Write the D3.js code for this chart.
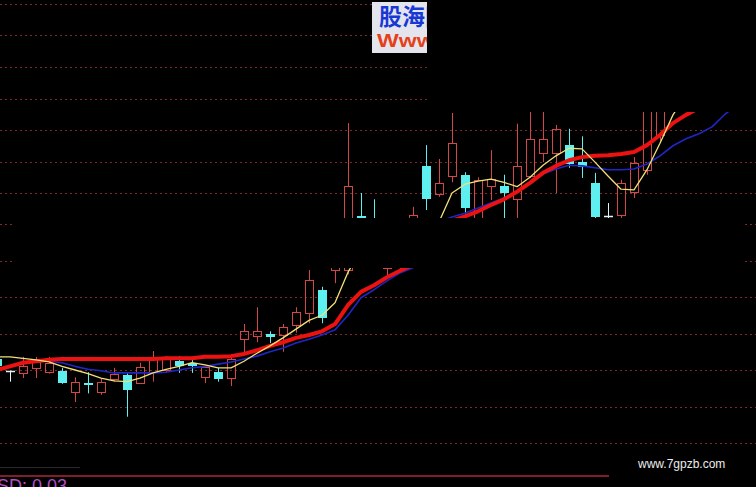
<!DOCTYPE html>
<html><head><meta charset="utf-8">
<script src="https://cdn.jsdelivr.net/npm/d3@7"></script>
<style>html,body{margin:0;padding:0;background:#000;overflow:hidden}</style>
</head><body>
<svg id="c" width="756" height="487"></svg>
<script>
// ---------- DATA ----------
const dayIndex = d3.range(-1, 58);                  // trading-day categories
const upperGridPrices = [15.0, 14.5, 14.0, 13.5, 13.0, 12.5, 12.0];
const lowerGridPrices = [11.0, 10.5, 10.0, 9.5, 9.0, 8.5, 8.0];

// lower section: candles [open, high, low, close], first day = -1
const lowerFirstDay = -1;
const lowerCandles = [
  [9.15, 9.21, 9.03, 9.06], [8.99, 8.99, 8.84, 8.99], [8.96, 9.18, 8.89, 9.06], [9.03, 9.18, 8.89, 9.11],
  [8.97, 9.18, 8.95, 9.10], [8.99, 9.03, 8.81, 8.82], [8.70, 8.90, 8.56, 8.84], [8.82, 8.97, 8.68, 8.79],
  [8.70, 8.89, 8.66, 8.84], [8.88, 9.03, 8.84, 8.95], [8.93, 8.97, 8.36, 8.73], [8.82, 9.10, 8.81, 9.04],
  [8.97, 9.26, 8.84, 9.16], [9.00, 9.19, 8.96, 9.16], [9.12, 9.19, 8.96, 9.06], [9.10, 9.14, 8.96, 9.06],
  [8.90, 9.04, 8.82, 9.04], [8.97, 9.03, 8.84, 8.88], [8.89, 9.21, 8.78, 9.15], [9.42, 9.63, 9.23, 9.53],
  [9.47, 9.86, 9.38, 9.53], [9.49, 9.53, 9.37, 9.45], [9.48, 9.63, 9.25, 9.59], [9.62, 9.86, 9.51, 9.79],
  [9.78, 10.37, 9.64, 10.23], [10.10, 10.14, 9.64, 9.71], [10.37, 10.57, 10.19, 10.53], [10.37, 10.70, 10.31, 10.64],
  [10.60, 11.00, 10.50, 10.90], [10.80, 11.10, 10.70, 11.00], [10.40, 10.90, 10.30, 10.80], [10.45, 10.80, 10.37, 10.70]
];
const lowerMA5 = [9.18, 9.18, 9.16, 9.14, 9.11, 9.05, 9.00, 8.95, 8.89, 8.85, 8.84, 8.89, 8.96, 9.01, 9.05,
  9.10, 9.07, 9.03, 9.03, 9.12, 9.23, 9.33, 9.44, 9.56, 9.68, 9.75, 9.92, 10.34, 10.64];
const lowerMA10 = [9.00, 9.05, 9.10, 9.12, 9.14, 9.15, 9.15, 9.15, 9.15, 9.15, 9.15, 9.15, 9.15, 9.16, 9.16,
  9.16, 9.18, 9.18, 9.19, 9.22, 9.27, 9.33, 9.38, 9.44, 9.48, 9.53, 9.63, 9.89, 10.07, 10.16, 10.27, 10.36, 10.44];
const lowerMA20 = [9.00, 9.05, 9.10, 9.12, 9.12, 9.10, 9.05, 9.01, 8.99, 8.96, 8.96, 8.96, 8.96, 8.97, 9.00,
  9.03, 9.05, 9.08, 9.11, 9.15, 9.19, 9.25, 9.30, 9.37, 9.42, 9.48, 9.55, 9.75, 9.99, 10.10, 10.22, 10.33, 10.40];

// upper section: candles first day = 26
const upperFirstDay = 26;
const upperCandles = [
  [11.38, 13.11, 11.25, 12.11], [11.63, 12.00, 11.41, 11.49], [11.54, 11.90, 11.32, 11.38], [11.30, 11.50, 11.20, 11.45],
  [11.35, 11.55, 11.30, 11.50], [11.44, 11.78, 11.38, 11.65], [12.43, 12.76, 11.73, 11.90], [11.98, 12.54, 11.94, 12.16],
  [12.27, 13.27, 12.17, 12.79], [12.29, 12.33, 11.49, 11.76], [11.33, 12.25, 11.25, 12.21], [12.11, 12.68, 11.89, 12.22],
  [12.11, 12.29, 11.54, 12.00], [11.90, 13.10, 11.60, 12.43], [12.27, 13.29, 12.24, 12.86], [12.63, 13.32, 12.49, 12.86],
  [12.63, 13.08, 12.00, 13.02], [12.76, 13.02, 12.40, 12.46], [12.49, 12.90, 12.24, 12.41], [12.16, 12.32, 11.58, 11.62],
  [11.63, 11.84, 11.60, 11.63], [11.65, 12.21, 11.60, 12.16], [12.02, 12.57, 11.92, 12.48], [12.37, 13.48, 12.29, 13.40],
  [12.92, 13.60, 12.79, 13.50]
];
const upperMA5First = 31;
const upperMA5 = [11.10, 11.33, 11.54, 12.00, 12.14, 12.19, 12.22, 12.17, 12.10, 12.25, 12.44, 12.59, 12.71,
  12.70, 12.49, 12.27, 12.06, 12.05, 12.37, 12.79, 13.24, 13.56];
const upperMA10First = 31;
const upperMA10 = [11.25, 11.37, 11.48, 11.56, 11.63, 11.71, 11.81, 11.90, 12.02, 12.16, 12.32, 12.43, 12.52,
  12.57, 12.59, 12.60, 12.62, 12.65, 12.76, 12.92, 13.11, 13.24, 13.35, 13.45];
const upperMA20First = 32;
const upperMA20 = [11.41, 11.54, 11.62, 11.68, 11.76, 11.84, 11.92, 12.02, 12.16, 12.30, 12.38, 12.44, 12.43,
  12.40, 12.37, 12.37, 12.38, 12.46, 12.59, 12.75, 12.86, 12.94, 13.05, 13.25, 13.41];

const indicatorLabel = "SD: 0.03";
const siteLabel = "www.7gpzb.com";
const logoTop = "股海网";
const logoBottom = "Www";

// ---------- SCALES ----------
const W = 756, H = 487;
const x = d3.scaleLinear().domain([dayIndex[0], 57]).range([-3, 751]);
const yUpper = d3.scaleLinear().domain([12, 15]).range([193, 4]);
const yLower = d3.scaleLinear().domain([8, 10]).range([443, 297]);

const svg = d3.select("#c");
svg.append("rect").attr("width", W).attr("height", H).attr("fill", "#000");

const defs = svg.append("defs");
defs.append("clipPath").attr("id", "clipLower").append("rect").attr("x", 0).attr("y", 268).attr("width", W).attr("height", H - 268);
defs.append("clipPath").attr("id", "clipUpper").append("rect").attr("x", 340).attr("y", 112).attr("width", W - 340).attr("height", 106);
defs.append("clipPath").attr("id", "clipLogo").append("rect").attr("x", 372).attr("y", 2).attr("width", 55).attr("height", 51);

// ---------- GRID ----------
const gridColor = "#7a2c28";
const grid = svg.append("g");
grid.selectAll("line.u").data(upperGridPrices).join("line")
  .attr("x1", 0).attr("x2", W)
  .attr("y1", d => Math.round(yUpper(d)) + 0.5).attr("y2", d => Math.round(yUpper(d)) + 0.5)
  .attr("stroke", gridColor).attr("stroke-dasharray", "2,3");
grid.selectAll("line.l").data(lowerGridPrices).join("line")
  .attr("x1", 0).attr("x2", W)
  .attr("y1", d => Math.round(yLower(d)) + 0.5).attr("y2", d => Math.round(yLower(d)) + 0.5)
  .attr("stroke", gridColor).attr("stroke-dasharray", "2,3");

// black masked areas of the picture
svg.append("rect").attr("x", 428).attr("y", 0).attr("width", W - 428).attr("height", 112).attr("fill", "#000");
svg.append("rect").attr("x", 12).attr("y", 200).attr("width", 733).attr("height", 68).attr("fill", "#000");

// ---------- PANELS ----------
function drawCandles(g, candles, first, y) {
  const k = g.selectAll("g.k").data(candles).join("g").attr("class", "k");
  k.each(function (c, i) {
    const [o, h, l, cl] = c;
    const sel = d3.select(this);
    const cx = Math.round(x(first + i));
    const up = cl > o, flat = cl === o;
    const top = Math.round(y(Math.max(o, cl))), bot = Math.round(y(Math.min(o, cl)));
    const yh = y(h), yl = y(l);
    if (up) {
      const col = "#d24848";
      sel.append("line").attr("x1", cx + 0.5).attr("x2", cx + 0.5).attr("y1", yh).attr("y2", top).attr("stroke", col);
      sel.append("line").attr("x1", cx + 0.5).attr("x2", cx + 0.5).attr("y1", bot).attr("y2", yl).attr("stroke", col);
      sel.append("rect").attr("x", cx - 3.5).attr("y", top + 0.5).attr("width", 8)
        .attr("height", Math.max(1, bot - top)).attr("fill", "none").attr("stroke", col);
    } else if (flat) {
      const col = "#e4f4f4";
      sel.append("line").attr("x1", cx + 0.5).attr("x2", cx + 0.5).attr("y1", yh).attr("y2", yl).attr("stroke", col);
      sel.append("line").attr("x1", cx - 4).attr("x2", cx + 5).attr("y1", top + 0.5).attr("y2", top + 0.5).attr("stroke", col).attr("stroke-width", 1.5);
    } else {
      const col = "#5ef0f0";
      sel.append("line").attr("x1", cx + 0.5).attr("x2", cx + 0.5).attr("y1", yh).attr("y2", yl).attr("stroke", col);
      sel.append("rect").attr("x", cx - 4).attr("y", top).attr("width", 9)
        .attr("height", Math.max(2, bot - top)).attr("fill", col);
    }
  });
}
function drawLine(g, values, first, y, color, width) {
  const line = d3.line().x((d, i) => x(first + i)).y(d => y(d));
  g.append("path").datum(values).attr("d", line).attr("fill", "none")
    .attr("stroke", color).attr("stroke-width", width).attr("stroke-linejoin", "round");
}

const lower = svg.append("g").attr("clip-path", "url(#clipLower)");
drawCandles(lower, lowerCandles, lowerFirstDay, yLower);
drawLine(lower, lowerMA20, lowerFirstDay, yLower, "#2026c4", 1.6);
drawLine(lower, lowerMA10, lowerFirstDay, yLower, "#ec1212", 4);
drawLine(lower, lowerMA5, lowerFirstDay, yLower, "#f2e07a", 1.3);

const upper = svg.append("g").attr("clip-path", "url(#clipUpper)");
drawCandles(upper, upperCandles, upperFirstDay, yUpper);
drawLine(upper, upperMA20, upperMA20First, yUpper, "#2026c4", 1.6);
drawLine(upper, upperMA10, upperMA10First, yUpper, "#ec1212", 4);
drawLine(upper, upperMA5, upperMA5First, yUpper, "#f2e07a", 1.3);

// ---------- BOTTOM INDICATOR AREA ----------
svg.append("line").attr("x1", 0).attr("x2", 80).attr("y1", 467.5).attr("y2", 467.5).attr("stroke", "#2a2a2a");
svg.append("line").attr("x1", 0).attr("x2", 609).attr("y1", 476).attr("y2", 476).attr("stroke", "#a82a3a").attr("stroke-width", 1.5);
svg.append("text").attr("x", -3).attr("y", 492).text(indicatorLabel)
  .attr("fill", "#b44ec8").attr("font-family", "Liberation Sans, Arial, sans-serif").attr("font-size", 18);

svg.append("text").attr("x", 638).attr("y", 468).text(siteLabel)
  .attr("fill", "#ececec").attr("font-family", "Liberation Sans, Arial, sans-serif").attr("font-size", 12);

// ---------- LOGO ----------
const logo = svg.append("g").attr("clip-path", "url(#clipLogo)");
logo.append("rect").attr("x", 372).attr("y", 2).attr("width", 60).attr("height", 51).attr("fill", "#e4e4ec");
logo.append("text").attr("x", 379).attr("y", 25).text(logoTop)
  .attr("fill", "#1838d6").attr("font-family", "Noto Sans CJK SC").attr("font-weight", "bold").attr("font-size", 23);
logo.append("text").attr("transform", "translate(377,47) scale(1.28,1)").text(logoBottom)
  .attr("fill", "#e6401a").attr("font-family", "Liberation Sans, Arial").attr("font-weight", "bold").attr("font-size", 18);
</script>
</body></html>
